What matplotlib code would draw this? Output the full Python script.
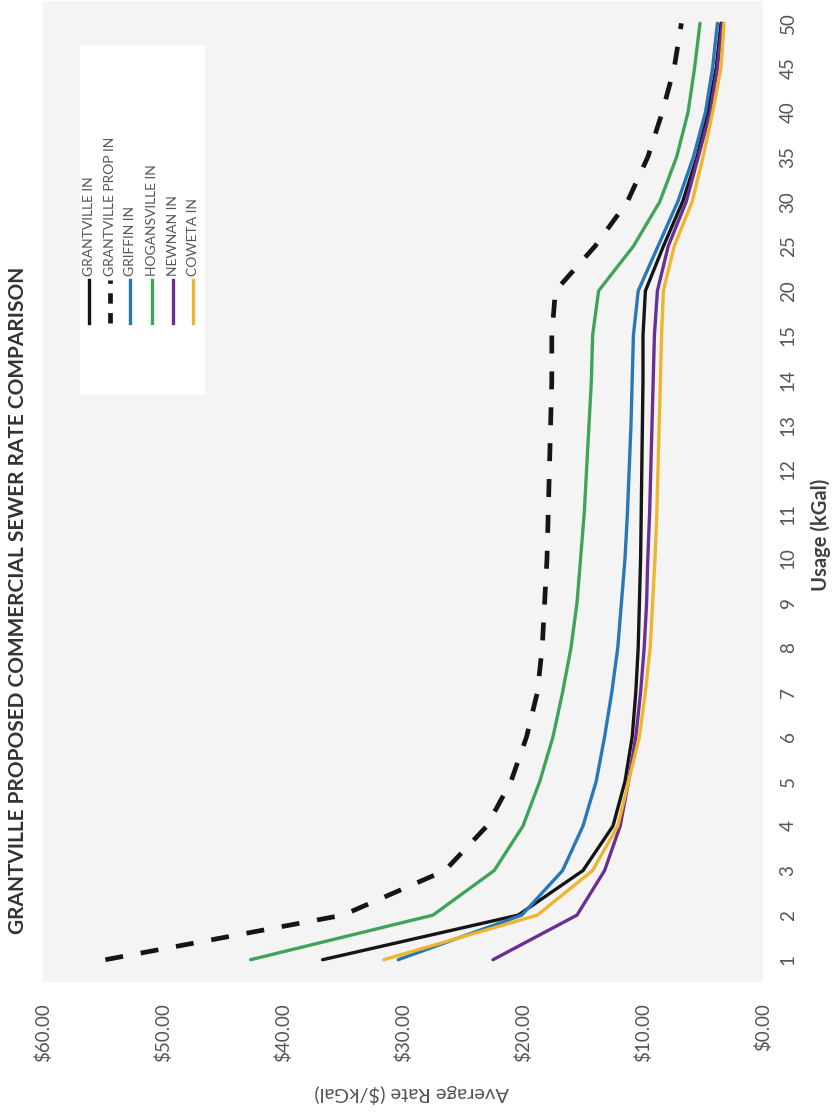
import matplotlib
matplotlib.use("Agg")
import matplotlib.pyplot as plt
from matplotlib.lines import Line2D
from matplotlib.patches import Rectangle

plt.rcParams['font.family'] = ['Lato', 'DejaVu Sans']

# ---------------- data ----------------
categories = ['1', '2', '3', '4', '5', '6', '7', '8', '9', '10', '11', '12', '13',
              '14', '15', '20', '25', '30', '35', '40', '45', '50']

grantville_in = [36.7, 20.4, 15.0, 12.5, 11.5, 10.9, 10.6, 10.4, 10.3, 10.2, 10.15,
                 10.1, 10.05, 10.0, 10.0, 9.8, 8.3, 6.7, 5.5, 4.6, 3.9, 3.5]
grantville_prop_in = [54.8, 35.0, 26.5, 23.0, 21.0, 19.7, 18.8, 18.4, 18.2, 18.0, 17.9,
                      17.8, 17.7, 17.6, 17.6, 17.3, 14.0, 11.3, 9.6, 8.4, 7.4, 6.8]
griffin_in = [30.4, 20.1, 16.7, 15.0, 13.9, 13.2, 12.6, 12.1, 11.8, 11.5, 11.3,
              11.15, 11.0, 10.9, 10.8, 10.4, 8.75, 7.1, 5.8, 4.8, 4.2, 3.8]
hogansville_in = [42.7, 27.5, 22.4, 20.0, 18.6, 17.5, 16.7, 16.0, 15.5, 15.2, 14.9,
                  14.7, 14.5, 14.3, 14.2, 13.7, 10.8, 8.6, 7.2, 6.25, 5.7, 5.25]
newnan_in = [22.5, 15.5, 13.2, 11.9, 11.2, 10.6, 10.2, 9.9, 9.7, 9.6, 9.45,
             9.35, 9.25, 9.15, 9.05, 8.8, 7.9, 6.4, 5.4, 4.4, 3.8, 3.4]
coweta_in = [31.6, 18.8, 14.2, 12.1, 11.2, 10.3, 9.8, 9.4, 9.2, 9.0, 8.85,
             8.75, 8.65, 8.55, 8.45, 8.3, 7.4, 5.9, 5.0, 4.2, 3.5, 3.25]

series_names = ['GRANTVILLE IN', 'GRANTVILLE PROP IN', 'GRIFFIN IN',
                'HOGANSVILLE IN', 'NEWNAN IN', 'COWETA IN']
series_values = [grantville_in, grantville_prop_in, griffin_in,
                 hogansville_in, newnan_in, coweta_in]

value_ticks = [0, 10, 20, 30, 40, 50, 60]
value_tick_labels = ['$0.00', '$10.00', '$20.00', '$30.00', '$40.00', '$50.00', '$60.00']

title_text = 'GRANTVILLE PROPOSED COMMERCIAL SEWER RATE COMPARISON'
x_title_text = 'Usage (kGal)'
y_title_text = 'Average Rate ($/kGal)'

# ---------------- styles ----------------
colors = ['#151515', '#151515', '#2878b8', '#3fa45a', '#6b2f93', '#efb52e']
widths = [2.4, 3.4, 2.4, 2.4, 2.4, 2.4]
dashed = [False, True, False, False, False, False]

W, H = 833, 1115
fig = plt.figure(figsize=(W / 100, H / 100), dpi=100)
fig.patch.set_facecolor('white')

# axes (chart is shown rotated: usage runs bottom->top, value runs right->left)
ax_l, ax_r, ax_t, ax_b = 43, 763, 1, 982
ax = fig.add_axes([ax_l / W, 1 - ax_b / H, (ax_r - ax_l) / W, (ax_b - ax_t) / H])
ax.set_facecolor('#f4f4f4')

idx = list(range(len(categories)))
for name, vals, c, lw, d in zip(series_names, series_values, colors, widths, dashed):
    if d:
        ax.plot(vals, idx, color=c, lw=lw, dashes=(3.8, 3.8),
                dash_capstyle='butt', label=name)
    else:
        ax.plot(vals, idx, color=c, lw=lw, solid_capstyle='round',
                solid_joinstyle='round', label=name)

ax.set_xlim(60, 0)
ax.set_ylim(-0.5, len(categories) - 0.5)

ax.set_xticks(value_ticks)
ax.set_xticklabels(value_tick_labels, rotation=90, fontsize=13.5, color='#555555')
ax.tick_params(axis='x', length=0, pad=15)

ax.yaxis.tick_right()
ax.set_yticks(idx)
ax.set_yticklabels(categories, rotation=90, fontsize=13.5, color='#555555', va='center')
ax.tick_params(axis='y', length=0, pad=12)

for s in ax.spines.values():
    s.set_visible(False)

# axis titles and chart title
fig.text(821 / W, 1 - 535 / H, x_title_text, rotation=90, fontsize=14.5,
         fontweight='bold', color='#404040', ha='center', va='center')
fig.text(412 / W, 1 - 1093 / H, y_title_text, rotation=180, fontsize=14.5,
         color='#555555', ha='center', va='center')
fig.text(18 / W, 1 - 600 / H, title_text, rotation=90, fontsize=15,
         fontweight='bold', color='#333333', ha='center', va='center')

# legend (rotated, drawn by hand)
fig.patches.append(Rectangle((80 / W, 1 - 395 / H), 125 / W, 350 / H,
                             transform=fig.transFigure, facecolor='white',
                             edgecolor='none', zorder=3))
leg_x = [89, 110, 130, 152, 173, 193]
for name, c, lw, d, lx in zip(series_names, colors, widths, dashed, leg_x):
    ln = Line2D([lx / W, lx / W], [1 - 323 / H, 1 - 280 / H], transform=fig.transFigure,
                color=c, lw=lw, zorder=4)
    if d:
        ln.set_dashes((2.2, 2.0))
    fig.lines.append(ln)
    fig.text(lx / W, 1 - 276 / H, name, rotation=90, fontsize=10, color='#555555',
             ha='center', va='bottom', zorder=5)

fig.savefig('out.png', dpi=100)
